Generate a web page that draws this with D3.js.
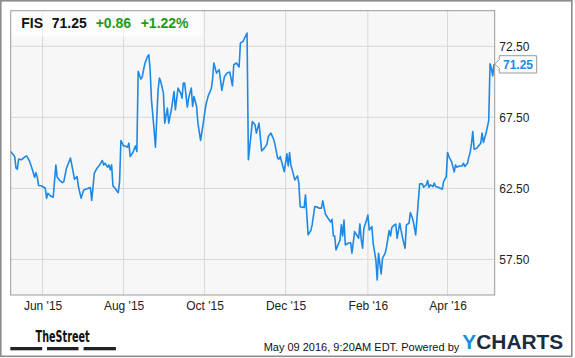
<!DOCTYPE html>
<html>
<head>
<meta charset="utf-8">
<script src="https://cdn.jsdelivr.net/npm/d3@7"></script>
<style>
  body { margin: 0; background: #fff; }
  svg { display: block; font-family: "Liberation Sans", Arial, sans-serif; }
</style>
</head>
<body>
<div id="chart"></div>
<script>
// FIS daily closes
const dates = [
  "2015-05-08","2015-05-11","2015-05-12","2015-05-13","2015-05-14","2015-05-16","2015-05-18","2015-05-20","2015-05-22","2015-05-24",
  "2015-05-26","2015-05-27","2015-05-28","2015-05-29","2015-05-31","2015-06-02","2015-06-03","2015-06-04","2015-06-05","2015-06-07",
  "2015-06-09","2015-06-11","2015-06-12","2015-06-14","2015-06-16","2015-06-17","2015-06-19","2015-06-21","2015-06-22","2015-06-24",
  "2015-06-25","2015-06-27","2015-06-28","2015-06-30","2015-07-02","2015-07-04","2015-07-07","2015-07-08","2015-07-10","2015-07-12",
  "2015-07-14","2015-07-16","2015-07-17","2015-07-18","2015-07-20","2015-07-21","2015-07-22","2015-07-23","2015-07-24","2015-07-25",
  "2015-07-27","2015-07-28","2015-07-29","2015-07-30","2015-08-01","2015-08-02","2015-08-04","2015-08-05","2015-08-06","2015-08-08",
  "2015-08-10","2015-08-11","2015-08-12","2015-08-14","2015-08-15","2015-08-17","2015-08-19","2015-08-20","2015-08-21","2015-08-22",
  "2015-08-24","2015-08-25","2015-08-27","2015-08-28","2015-08-29","2015-08-31","2015-09-01","2015-09-03","2015-09-04","2015-09-06",
  "2015-09-08","2015-09-09","2015-09-11","2015-09-13","2015-09-14","2015-09-15","2015-09-16","2015-09-18","2015-09-19","2015-09-21",
  "2015-09-22","2015-09-23","2015-09-25","2015-09-26","2015-09-28","2015-09-30","2015-10-02","2015-10-04","2015-10-06","2015-10-07",
  "2015-10-08","2015-10-10","2015-10-12","2015-10-14","2015-10-16","2015-10-18","2015-10-20","2015-10-22","2015-10-23","2015-10-25",
  "2015-10-27","2015-10-28","2015-10-30","2015-11-02","2015-11-03","2015-11-06","2015-11-08","2015-11-09","2015-11-11","2015-11-13",
  "2015-11-15","2015-11-17","2015-11-18","2015-11-20","2015-11-22","2015-11-23","2015-11-25","2015-11-26","2015-11-27","2015-11-28",
  "2015-11-30","2015-12-02","2015-12-03","2015-12-04","2015-12-05","2015-12-07","2015-12-08","2015-12-10","2015-12-11","2015-12-12",
  "2015-12-13","2015-12-15","2015-12-16","2015-12-18","2015-12-20","2015-12-21","2015-12-23","2015-12-25","2015-12-26","2015-12-28",
  "2015-12-29","2015-12-31","2016-01-02","2016-01-04","2016-01-05","2016-01-06","2016-01-07","2016-01-08","2016-01-10","2016-01-11",
  "2016-01-12","2016-01-13","2016-01-14","2016-01-15","2016-01-17","2016-01-19","2016-01-20","2016-01-22","2016-01-24","2016-01-25",
  "2016-01-26","2016-01-27","2016-01-28","2016-01-29","2016-01-31","2016-02-01","2016-02-02","2016-02-04","2016-02-05","2016-02-07",
  "2016-02-08","2016-02-09","2016-02-11","2016-02-12","2016-02-14","2016-02-15","2016-02-17","2016-02-18","2016-02-19","2016-02-21",
  "2016-02-22","2016-02-23","2016-02-25","2016-02-27","2016-02-29","2016-03-01","2016-03-03","2016-03-04","2016-03-06","2016-03-08",
  "2016-03-11","2016-03-13","2016-03-14","2016-03-16","2016-03-17","2016-03-18","2016-03-19","2016-03-21","2016-03-22","2016-03-23",
  "2016-03-25","2016-03-28","2016-03-29","2016-03-31","2016-04-01","2016-04-02","2016-04-04","2016-04-06","2016-04-07","2016-04-08",
  "2016-04-10","2016-04-12","2016-04-13","2016-04-14","2016-04-16","2016-04-17","2016-04-18","2016-04-19","2016-04-20","2016-04-21",
  "2016-04-23","2016-04-24","2016-04-26","2016-04-27","2016-04-28","2016-04-30","2016-05-02","2016-05-03","2016-05-04","2016-05-05",
  "2016-05-06"
];
const prices = [
  65.09,64.74,63.92,63.85,64.56,64.51,64.67,64.79,64.46,63.92,
  63.29,63.61,63.29,62.70,62.68,62.58,62.51,61.81,62.16,61.97,
  61.88,64.15,63.29,63.05,62.91,62.98,63.92,64.39,64.63,63.68,
  63.15,63.33,62.63,61.81,62.39,62.46,62.56,61.66,63.57,63.92,
  64.15,64.46,64.15,64.27,63.99,64.15,63.80,64.15,62.68,62.58,
  62.32,62.20,62.98,65.87,65.49,65.49,65.40,65.68,64.74,65.02,
  65.49,65.09,70.73,70.19,70.33,71.27,71.78,71.90,70.85,68.73,
  66.62,65.40,69.44,70.26,70.02,69.20,67.09,68.15,67.09,68.03,
  69.32,68.03,69.56,69.20,68.85,69.91,69.91,68.22,68.85,69.56,
  68.26,68.96,68.26,67.09,65.87,67.09,68.38,69.08,69.49,70.14,
  71.32,70.61,70.85,69.39,70.37,70.61,70.68,69.72,71.20,71.32,
  71.04,72.73,72.84,73.43,64.51,67.20,66.97,66.39,67.09,65.14,
  65.33,65.61,66.15,66.39,65.96,65.61,64.63,64.56,64.74,64.39,
  63.68,64.93,64.08,65.02,64.15,63.45,63.10,63.38,62.87,61.22,
  61.18,61.15,62.04,59.23,59.53,59.93,61.22,61.18,61.11,61.11,
  61.62,60.70,60.40,60.14,60.33,59.15,59.15,58.17,58.64,58.87,
  59.93,59.15,60.28,58.52,58.64,58.68,57.94,59.46,59.15,58.99,
  60.00,58.87,58.29,59.70,60.28,60.63,59.58,59.81,58.64,57.46,
  56.06,57.94,56.48,57.58,57.94,58.36,59.53,59.15,59.74,59.93,
  59.98,58.99,60.05,59.06,58.29,59.93,60.05,60.80,60.28,59.23,
  62.82,62.82,62.58,62.75,63.05,62.58,62.75,62.63,62.87,62.63,
  62.58,62.44,62.98,63.33,65.02,64.74,64.39,63.66,64.15,63.99,
  64.08,64.08,64.27,64.04,64.27,64.70,65.02,65.63,66.50,65.26,
  65.33,65.44,65.68,66.39,65.73,66.39,67.27,71.27,70.96,70.42,
  71.25
];

const xTickDates = ["2015-06-01","2015-08-01","2015-10-01","2015-12-01","2016-02-01","2016-04-01"];
const xTickLabels = ["Jun '15","Aug '15","Oct '15","Dec '15","Feb '16","Apr '16"];
const yTicks = [57.5, 62.5, 67.5, 72.5];

const header = { ticker: "FIS", price: "71.25", change: "+0.86", pct: "+1.22%" };
const stamp = "May 09 2016, 9:20AM EDT.  Powered by";

const W = 575, H = 358;
const plot = { left: 10.7, top: 10.7, right: 494.7, bottom: 295 };
const lineColor = "#1e88e5";

const parse = d3.timeParse("%Y-%m-%d");
const data = dates.map((d, i) => ({ date: parse(d), value: prices[i] }));

const svg = d3.select("#chart").append("svg")
    .attr("width", W)
    .attr("height", H);

// outer frame
svg.append("rect")
    .attr("x", 0.8).attr("y", 0.8)
    .attr("width", 571).attr("height", 355.5)
    .attr("fill", "#fff")
    .attr("stroke", "#8c8c8c")
    .attr("stroke-width", 1.6);

const x = d3.scaleTime()
    .domain([new Date(2015, 4, 8), new Date(2016, 4, 6, 12)])
    .range([plot.left, plot.right]);

const y = d3.scaleLinear()
    .domain([55, 75])
    .range([plot.bottom, plot.top]);

// plot background
svg.append("rect")
    .attr("x", plot.left).attr("y", plot.top)
    .attr("width", plot.right - plot.left)
    .attr("height", plot.bottom - plot.top)
    .attr("fill", "#f7f7f7");

// grid
svg.append("g").selectAll("line")
    .data(yTicks)
    .enter().append("line")
    .attr("x1", plot.left).attr("x2", plot.right)
    .attr("y1", d => y(d)).attr("y2", d => y(d))
    .attr("stroke", "#d8d8d8");

svg.append("g").selectAll("line")
    .data(xTickDates)
    .enter().append("line")
    .attr("x1", d => x(parse(d))).attr("x2", d => x(parse(d)))
    .attr("y1", plot.top).attr("y2", plot.bottom)
    .attr("stroke", "#d8d8d8");

// header band
svg.append("rect")
    .attr("x", plot.left).attr("y", plot.top)
    .attr("width", 191).attr("height", 26)
    .attr("fill", "#fff")
    .attr("opacity", 0.6);

// price line
svg.append("path")
    .datum(data)
    .attr("fill", "none")
    .attr("stroke", lineColor)
    .attr("stroke-width", 1.6)
    .attr("stroke-linejoin", "round")
    .attr("d", d3.line().x(d => x(d.date)).y(d => y(d.value)));

// plot border
svg.append("rect")
    .attr("x", plot.left).attr("y", plot.top)
    .attr("width", plot.right - plot.left)
    .attr("height", plot.bottom - plot.top)
    .attr("fill", "none")
    .attr("stroke", "#9a9a9a");

// x axis labels
const xAxis = svg.append("g")
    .attr("transform", `translate(0,${plot.bottom})`)
    .call(d3.axisBottom(x)
        .tickValues(xTickDates.map(parse))
        .tickFormat((d, i) => xTickLabels[i])
        .tickSize(0)
        .tickPadding(6.5));
xAxis.select(".domain").remove();
xAxis.selectAll("text")
    .style("font-family", "'Liberation Sans', Arial, sans-serif")
    .style("font-size", "12px")
    .attr("fill", "#222");

// y axis labels on the right
const yAxis = svg.append("g")
    .attr("transform", `translate(${plot.right},0)`)
    .call(d3.axisRight(y)
        .tickValues(yTicks)
        .tickFormat(d3.format(".2f"))
        .tickSize(0)
        .tickPadding(4.6));
yAxis.select(".domain").remove();
yAxis.selectAll("text")
    .style("font-family", "'Liberation Sans', Arial, sans-serif")
    .style("font-size", "12px")
    .attr("fill", "#222");

// last value callout
const last = data[data.length - 1];
const ly = y(last.value);
const bx = plot.right + 4.6, bw = 37.4;
svg.append("path")
    .attr("d", `M${plot.right},${ly} L${bx},${ly - 4.3} L${bx},${ly - 8.3} L${bx + bw},${ly - 8.3} L${bx + bw},${ly + 9} L${bx},${ly + 9} L${bx},${ly + 4.3} Z`)
    .attr("fill", "#fff")
    .attr("stroke", "#999");
svg.append("text")
    .attr("x", bx + bw / 2).attr("y", ly + 5)
    .attr("text-anchor", "middle")
    .style("font-size", "12px")
    .style("font-weight", "bold")
    .attr("fill", lineColor)
    .text(d3.format(".2f")(last.value));

// header text
const head = svg.append("text")
    .attr("y", 28.3)
    .style("font-size", "14px")
    .style("font-weight", "bold");
head.append("tspan").attr("x", 21.3).attr("fill", "#111").text(header.ticker);
head.append("tspan").attr("x", 51.7).attr("fill", "#111").text(header.price);
head.append("tspan").attr("x", 95.7).attr("fill", "#1e9a1e").text(header.change);
head.append("tspan").attr("x", 140.7).attr("fill", "#1e9a1e").text(header.pct);

// TheStreet logo
svg.append("text")
    .attr("x", 35.6).attr("y", 341.7)
    .attr("textLength", 54)
    .attr("lengthAdjust", "spacingAndGlyphs")
    .style("font-family", "'Liberation Sans Narrow', 'DejaVu Sans Condensed', sans-serif")
    .style("font-size", "16px")
    .style("font-weight", "bold")
    .attr("fill", "#111")
    .text("TheStreet");
svg.append("g").selectAll("rect")
    .data([[10.3, 42.2], [47, 78.5], [83.6, 115.9]])
    .enter().append("rect")
    .attr("x", d => d[0]).attr("y", 347)
    .attr("width", d => d[1] - d[0]).attr("height", 3.3)
    .attr("fill", "#222");

// footer stamp + YCHARTS
svg.append("text")
    .attr("x", 459.3).attr("y", 351)
    .attr("text-anchor", "end")
    .style("font-size", "11px")
    .attr("fill", "#111")
    .text(stamp);
const yc = svg.append("text")
    .attr("x", 462.3).attr("y", 349.3)
    .attr("textLength", 101)
    .attr("lengthAdjust", "spacingAndGlyphs")
    .style("font-size", "20px")
    .style("font-weight", "bold");
yc.append("tspan").attr("fill", "#1a8fd8").text("Y");
yc.append("tspan").attr("fill", "#1c2b3f").text("CHARTS");
</script>
</body>
</html>
